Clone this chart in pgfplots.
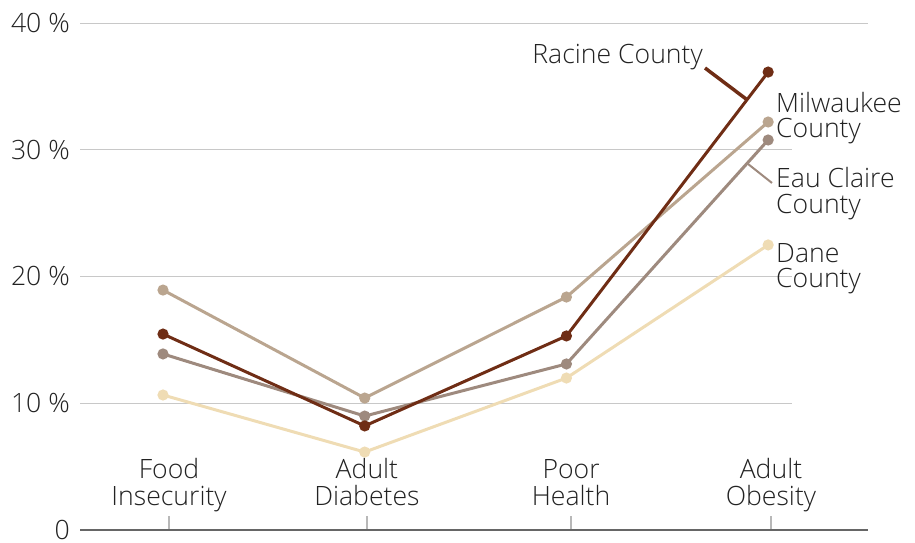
\documentclass[border=0pt]{standalone}
\usepackage{pgfplots}
\pgfplotsset{compat=1.18}
\usepackage{fontspec}
\setmainfont{Open Sans}[UprightFont={* Light}]
\definecolor{racine}{HTML}{6F2D15}
\definecolor{milw}{HTML}{BAA58F}
\definecolor{eau}{HTML}{9E8A7E}
\definecolor{dane}{HTML}{EFDCB4}
\definecolor{txt}{HTML}{222222}
\definecolor{grid}{HTML}{C8C8C8}
\begin{document}
\begin{tikzpicture}[x=1pt,y=1pt]
\path[use as bounding box] (0,0) rectangle (915,542);
\begin{axis}[
  at={(80pt,12pt)}, anchor=south west,
  scale only axis, width=788pt, height=507pt,
  xmin=-0.4115, xmax=3.495, ymin=0, ymax=40,
  clip=false,
  axis x line*=bottom, axis y line*=left,
  y axis line style={draw=none},
  x axis line style={draw=black!60, line width=1.2pt},
  ytick={0,10,20,30,40},
  yticklabels={0,10 \%,20 \%,30 \%,40 \%},
  ytick style={draw=none},
  xtick={0.03,1.011,2.023,3.014},
  xticklabels={Food\\Insecurity,Adult\\Diabetes,Poor\\Health,Adult\\Obesity},
  xtick style={draw=black!28, line width=2pt},
  tick align=inside, major tick length=14pt,
  xticklabel style={align=center, anchor=south, inner sep=0pt, text depth=6pt, yshift=18pt, font=\fontsize{26.6}{27}\selectfont, text=txt},
  yticklabel style={anchor=east, inner sep=0pt, xshift=-10pt, yshift=0pt, font=\fontsize{26.6}{27}\selectfont, text=txt},
  every axis plot/.append style={line width=3pt, mark=*, mark size=4pt},
]
\draw[grid, line width=1pt] (axis cs:-0.4115,10) -- (axis cs:3.118,10);
\draw[grid, line width=1pt] (axis cs:-0.4115,20) -- (axis cs:3.118,20);
\draw[grid, line width=1pt] (axis cs:-0.4115,30) -- (axis cs:3.118,30);
\draw[grid, line width=1pt] (axis cs:-0.4115,40) -- (axis cs:3.495,40);

% Dane County
\addplot[color=dane, mark options={fill=dane}] coordinates {(0,10.65) (1,6.15) (2,11.99) (3,22.49)};
% Eau Claire County
\addplot[color=eau, mark options={fill=eau}] coordinates {(0,13.89) (1,8.99) (2,13.10) (3,30.77)};
% Milwaukee County
\addplot[color=milw, mark options={fill=milw}] coordinates {(0,18.93) (1,10.41) (2,18.38) (3,32.19)};
% Racine County
\addplot[color=racine, mark options={fill=racine}] coordinates {(0,15.46) (1,8.21) (2,15.31) (3,36.13)};

\draw[racine, line width=3.5pt] (axis cs:2.687,36.45) -- (axis cs:2.891,34.00);
\draw[eau, line width=2pt] (axis cs:2.900,28.88) -- (axis cs:3.019,27.38);

\begin{scope}[every node/.style={inner sep=0pt, text=txt, font=\fontsize{26.6}{27}\selectfont}]
\node[anchor=base east] at (axis cs:2.677,36.84) {Racine County};
\node[anchor=base west] at (axis cs:3.039,32.90) {Milwaukee};
\node[anchor=base west] at (axis cs:3.039,30.93) {County};
\node[anchor=base west] at (axis cs:3.039,27.06) {Eau Claire};
\node[anchor=base west] at (axis cs:3.039,25.01) {County};
\node[anchor=base west] at (axis cs:3.039,21.14) {Dane};
\node[anchor=base west] at (axis cs:3.039,19.17) {County};
\end{scope}
\end{axis}
\end{tikzpicture}
\end{document}
